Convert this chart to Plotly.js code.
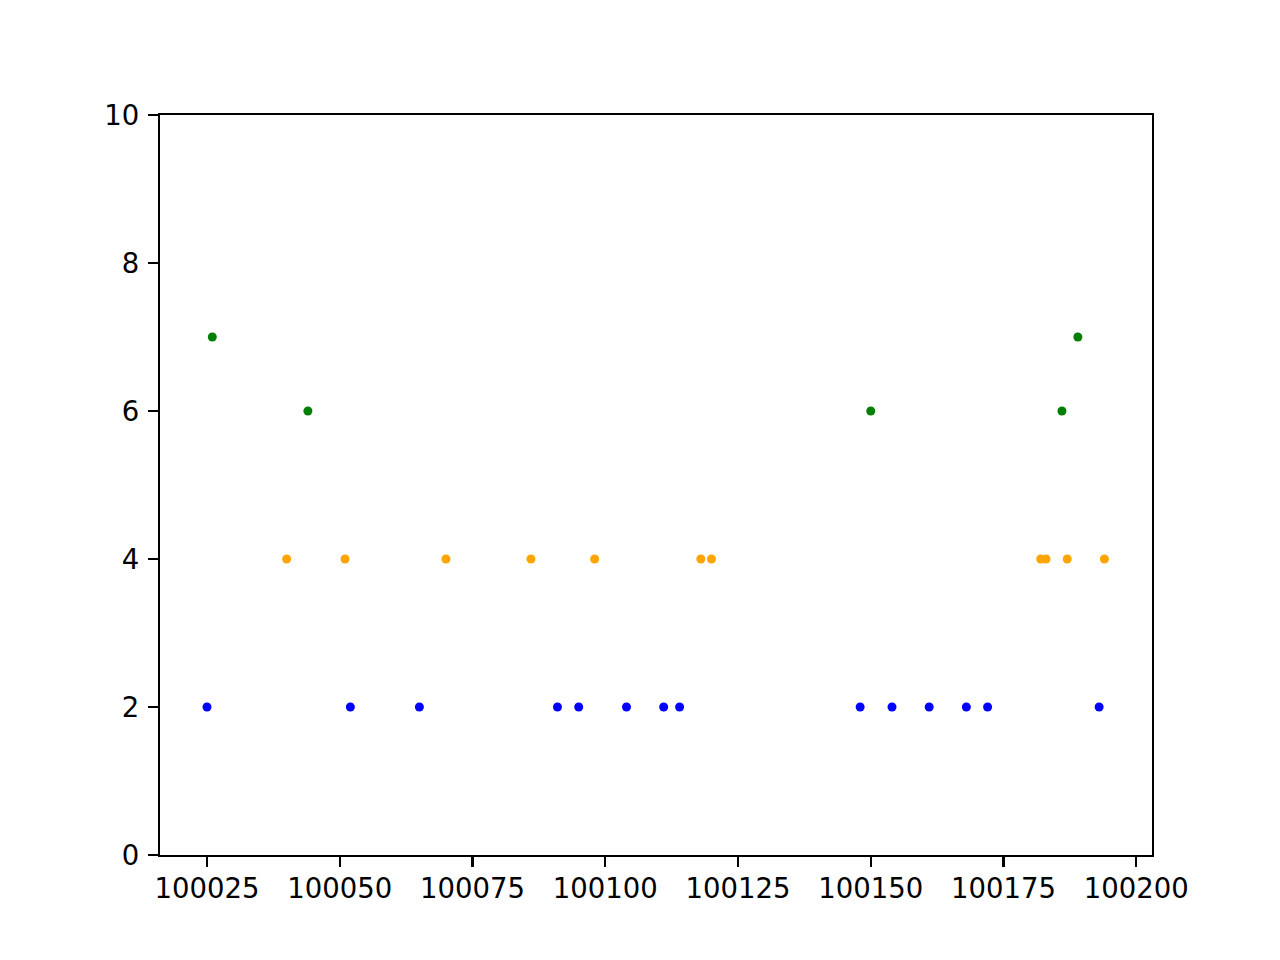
<!DOCTYPE html>
<html>
<head>
<meta charset="utf-8">
<script src="https://cdn.plot.ly/plotly-3.0.1.min.js"></script>
<style>html,body{margin:0;padding:0;background:#fff;}#chart{width:1280px;height:960px;}</style>
</head>
<body>
<div id="chart"></div>
<script>
const blueX = [100025, 100052, 100065, 100091, 100095, 100104, 100111, 100114, 100148, 100154, 100161, 100168, 100172, 100193];
const blueY = [2, 2, 2, 2, 2, 2, 2, 2, 2, 2, 2, 2, 2, 2];
const orangeX = [100040, 100051, 100070, 100086, 100098, 100118, 100120, 100182, 100183, 100187, 100194];
const orangeY = [4, 4, 4, 4, 4, 4, 4, 4, 4, 4, 4];
const greenX = [100026, 100044, 100150, 100186, 100189];
const greenY = [7, 6, 6, 6, 7];
const xTicks = [100025, 100050, 100075, 100100, 100125, 100150, 100175, 100200];
const yTicks = [0, 2, 4, 6, 8, 10];

function tr(x, y, c) {
  return {x: x, y: y, type: 'scatter', mode: 'markers', marker: {color: c, size: 9, line: {width: 0}}, showlegend: false, hoverinfo: 'x+y'};
}
const data = [tr(blueX, blueY, '#0000ff'), tr(orangeX, orangeY, '#ffa500'), tr(greenX, greenY, '#008000')];
const axisCommon = {
  showgrid: false, zeroline: false, showline: true, linecolor: '#000', linewidth: 2.2, mirror: true,
  ticks: 'outside', ticklen: 10, tickwidth: 2.2, tickcolor: '#000',
  tickfont: {family: 'DejaVu Sans', size: 27.5, color: '#000'}
};
const layout = {
  width: 1280, height: 960,
  margin: {l: 160, r: 128, t: 115, b: 105, pad: 0},
  paper_bgcolor: '#fff', plot_bgcolor: '#fff',
  xaxis: Object.assign({}, axisCommon, {range: [100016.15, 100202.96], tickvals: xTicks, ticktext: xTicks.map(String), ticklabelstandoff: -2}),
  yaxis: Object.assign({}, axisCommon, {range: [0, 10], tickvals: yTicks, ticktext: yTicks.map(String), ticklabelstandoff: 3})
};
Plotly.newPlot('chart', data, layout, {staticPlot: true});
</script>
</body>
</html>
